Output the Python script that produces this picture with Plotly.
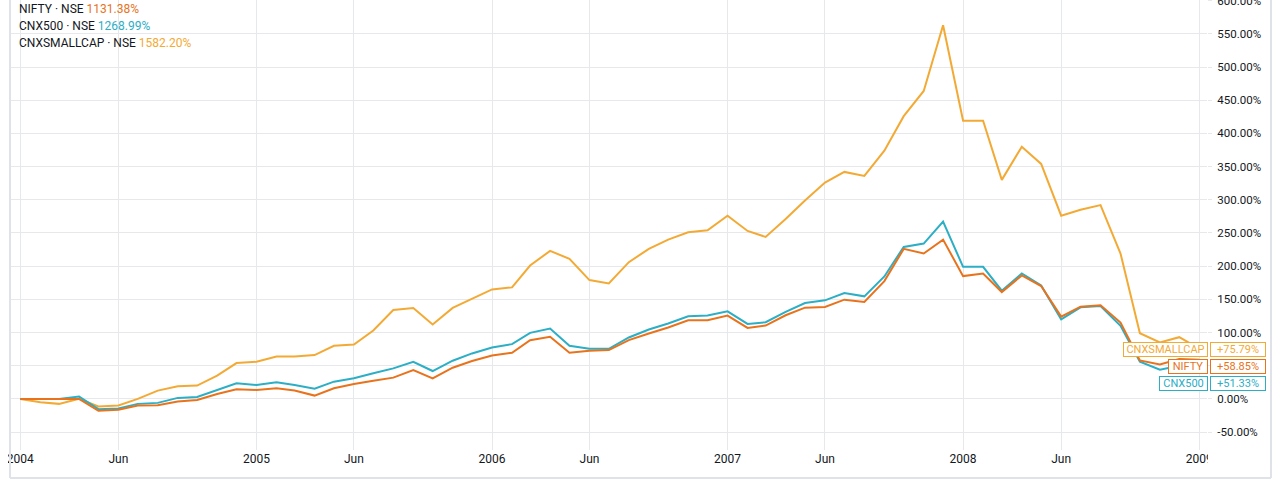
import pandas as pd
import plotly.graph_objects as go

# ---- data (percent change since Jan 2004, monthly) ----
months = pd.date_range("2004-01-01", "2009-01-01", freq="MS")

nifty = [0, 0, -1, 0, -18, -16.5, -10, -9.5, -4, -1.5, 7.5, 14.5, 13.5, 16, 12.5, 5, 16, 22.5, 27.5, 32, 43.5, 31, 47,
         57, 65.5, 69.5, 88.5, 93.5, 69.5, 72.5, 73.5, 88.5,
         98.5, 107.5, 118.5, 118.5, 125.5, 107, 110.5, 126, 137.5, 138.5, 149.5, 146, 177.5,
         226, 219, 240, 185, 189, 161, 186, 170, 124, 139, 141,
         115, 58, 52, 60, 58.85]

cnx500 = [0, 0, 0, 3.5, -15.5, -14.5, -7.5, -6, 1.5, 3, 13.5, 23.5, 21, 25, 21, 15.5, 26, 31, 38.5, 46, 56, 42, 57.5,
          68.5, 77.5, 82.5, 99.5, 106, 80, 75.5, 75.5, 92.5,
          104.5, 113.5, 124.5, 125.5, 132, 113, 115.5, 131, 144.5, 148.5, 159.5, 154.5, 184.5,
          229, 234, 267, 199, 199, 163, 189, 171, 120, 138, 140,
          110, 56, 44, 50, 51.33]

smallcap = [0, -5, -7.5, 0, -11.5, -10, 0, 12.5, 19, 20, 35, 54, 56, 64, 64, 66, 80, 82, 103, 134, 137, 112, 137,
            151, 165, 168, 201, 223, 211, 179, 174, 206,
            226, 240, 251, 254, 276, 253, 244, 271, 299, 326, 342, 336, 374,
            426, 464, 563, 419, 419, 330, 380, 354, 276, 285, 292,
            219, 99, 85, 93, 75.79]

series_names = ["NIFTY", "CNX500", "CNXSMALLCAP"]
legend_totals = ["1131.38%", "1268.99%", "1582.20%"]
last_labels = ["+58.85%", "+51.33%", "+75.79%"]

x_tick_dates = ["2004-01-01", "2004-06-01", "2005-01-01", "2005-06-01", "2006-01-01", "2006-06-01",
                "2007-01-01", "2007-06-01", "2008-01-01", "2008-06-01", "2009-01-01"]
x_tick_text = ["2004", "Jun", "2005", "Jun", "2006", "Jun", "2007", "Jun", "2008", "Jun", "2009"]
y_tick_vals = list(range(-50, 601, 50))
y_tick_text = [f"{v:.2f}%" for v in y_tick_vals]

# ---- styling ----
C_NIFTY = "#e8731c"
C_500 = "#2caec5"
C_SMALL = "#f3aa35"
TXT = "#131722"
GRID = "#e6e8ec"
BORDER = "#dfe2e8"
FONT = "Roboto"

W, H = 1281, 487
L, R, T, B = 10, 74, 0, 37
PW, PH = W - L - R, H - T - B


def px(xp):
    return (xp - L) / PW


def py(yp):
    return (PH + T - yp) / PH


fig = go.Figure()
fig.add_trace(go.Scatter(x=months, y=smallcap, mode="lines", line=dict(color=C_SMALL, width=2), name=series_names[2]))
fig.add_trace(go.Scatter(x=months, y=cnx500, mode="lines", line=dict(color=C_500, width=2), name=series_names[1]))
fig.add_trace(go.Scatter(x=months, y=nifty, mode="lines", line=dict(color=C_NIFTY, width=2), name=series_names[0]))

fig.update_layout(
    width=W, height=H,
    margin=dict(l=L, r=R, t=T, b=B, pad=0, autoexpand=False),
    paper_bgcolor="white", plot_bgcolor="white",
    showlegend=False, hovermode=False,
    font=dict(family=FONT, color=TXT, size=11),
    xaxis=dict(
        type="date", range=["2003-12-16", "2009-01-13"],
        tickvals=x_tick_dates, ticktext=x_tick_text,
        showgrid=True, gridcolor=GRID, gridwidth=1,
        zeroline=False, showline=False, ticks="",
        tickfont=dict(family=FONT, size=12, color=TXT),
        ticklabeloverflow="allow", automargin=False,
    ),
    yaxis=dict(
        side="right", range=[-77, 601],
        tickvals=y_tick_vals, ticktext=y_tick_text,
        showgrid=True, gridcolor=GRID, gridwidth=1,
        zeroline=False, showline=False,
        ticks="outside", ticklen=4, tickcolor=GRID,
        ticklabelstandoff=3,
        tickfont=dict(family=FONT, size=11.5, color=TXT),
        ticklabeloverflow="allow", automargin=False,
    ),
)

shapes = []
# clip tick labels beyond the pane like the original widget
shapes.append(dict(type="rect", xref="paper", yref="paper", x0=px(1208), x1=px(1269), y0=py(476), y1=py(452),
                   fillcolor="white", line=dict(width=0), layer="above"))
shapes.append(dict(type="rect", xref="paper", yref="paper", x0=px(0), x1=px(8), y0=py(476), y1=py(452),
                   fillcolor="white", line=dict(width=0), layer="above"))
# widget border
shapes.append(dict(type="line", xref="paper", yref="paper", x0=px(10), x1=px(10), y0=py(0), y1=py(478),
                   line=dict(color=BORDER, width=2), layer="above"))
shapes.append(dict(type="line", xref="paper", yref="paper", x0=px(10), x1=px(1271), y0=py(478), y1=py(478),
                   line=dict(color=BORDER, width=2), layer="above"))
shapes.append(dict(type="line", xref="paper", yref="paper", x0=px(1271), x1=px(1271), y0=py(0), y1=py(478),
                   line=dict(color=BORDER, width=2), layer="above"))
fig.update_layout(shapes=shapes)

annotations = []
# top-left legend
leg_colors = [C_NIFTY, C_500, C_SMALL]
leg_y = [9, 26, 43]
for name, tot, col, yy in zip(series_names, legend_totals, leg_colors, leg_y):
    annotations.append(dict(
        xref="paper", yref="paper", x=px(17), y=py(yy), xanchor="left", yanchor="middle",
        text=f"{name} · NSE <span style='color:{col}'>{tot}</span>",
        showarrow=False, font=dict(family=FONT, size=12, color=TXT),
    ))

# right-side last-value labels: (name, value, colour, name box center x, width, y center)
label_specs = [
    (series_names[2], last_labels[2], C_SMALL, 1165.5, 85, 349),
    (series_names[0], last_labels[0], C_NIFTY, 1188, 40, 366.5),
    (series_names[1], last_labels[1], C_500, 1183, 49, 383.5),
]
for name, val, col, cx, bw, cy in label_specs:
    annotations.append(dict(
        xref="paper", yref="paper", x=px(cx), y=py(cy), xanchor="center", yanchor="middle",
        text=name, showarrow=False, font=dict(family=FONT, size=11, color=col),
        bgcolor="white", bordercolor=col, borderwidth=1, borderpad=0, width=bw - 2, height=13,
    ))
    annotations.append(dict(
        xref="paper", yref="paper", x=px(1238), y=py(cy), xanchor="center", yanchor="middle",
        text=val, showarrow=False, font=dict(family=FONT, size=11, color=col),
        bgcolor="white", bordercolor=col, borderwidth=1, borderpad=0, width=54, height=13,
    ))
fig.update_layout(annotations=annotations)

fig.write_html("out.html", config={"displayModeBar": False},
               post_script="document.body.style.margin='0px';")
